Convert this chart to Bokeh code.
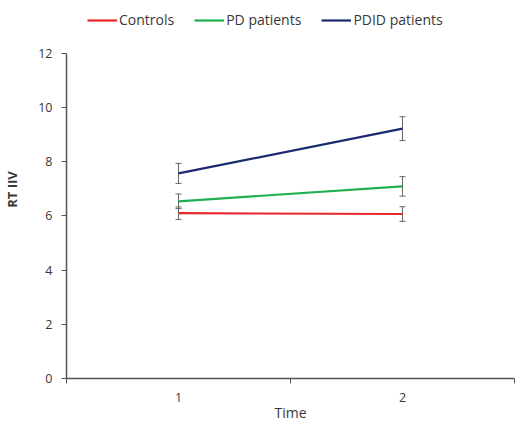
from bokeh.plotting import figure
from bokeh.models import (ColumnDataSource, Whisker, TeeHead, FixedTicker,
                          Legend, LegendItem, Range1d)
from bokeh.embed import file_html
from bokeh.resources import INLINE

# ---- data ----
times = [1, 2]
time_labels = ["1", "2"]
series_names = ["Controls", "PD patients", "PDID patients"]
controls = [6.10, 6.07]
controls_err = [0.23, 0.27]
pd_patients = [6.54, 7.09]
pd_err = [0.27, 0.36]
pdid_patients = [7.57, 9.22]
pdid_err = [0.37, 0.44]
colors = ["#e8262a", "#1fb04f", "#1b2a6e"]
y_ticks = [0, 2, 4, 6, 8, 10, 12]
y_max = 12

FONT = "Open Sans"
TXT = "#383838"
AXC = "#555555"

# extra headroom above the axis top (12) holds the legend
p = figure(width=516, height=424, output_backend="svg", toolbar_location=None,
           x_range=Range1d(0.5, 2.5), y_range=Range1d(0, 13.95),
           min_border_left=59, min_border_right=2, min_border_top=0,
           min_border_bottom=43)
p.outline_line_color = None
p.grid.grid_line_color = None
p.background_fill_color = "white"
p.border_fill_color = "white"

# x axis
xa = p.xaxis[0]
xa.ticker = FixedTicker(ticks=times, minor_ticks=[0.5, 1.5, 2.5])
xa.major_label_overrides = {t: l for t, l in zip(times, time_labels)}
xa.major_tick_out = 0
xa.major_tick_in = 0
xa.minor_tick_out = 5
xa.minor_tick_in = 0
xa.minor_tick_line_color = AXC
xa.axis_line_color = AXC
xa.axis_line_width = 1.5
xa.major_label_standoff = 9
xa.axis_label = "Time"
xa.axis_label_standoff = -2
xa.axis_label_text_font = FONT
xa.axis_label_text_font_style = "normal"
xa.axis_label_text_font_size = "14px"
xa.axis_label_text_color = TXT
xa.major_label_text_font = FONT
xa.major_label_text_font_size = "12.5px"
xa.major_label_text_color = TXT

# y axis
ya = p.yaxis[0]
ya.ticker = FixedTicker(ticks=y_ticks)
ya.bounds = (0, y_max)
ya.major_tick_out = 5
ya.major_tick_in = 0
ya.minor_tick_out = 0
ya.minor_tick_in = 0
ya.major_tick_line_color = AXC
ya.axis_line_color = AXC
ya.axis_line_width = 1.5
ya.major_label_standoff = 9
ya.axis_label = "RT IIV"
ya.axis_label_standoff = 14
ya.axis_label_text_font = FONT
ya.axis_label_text_font_style = "bold"
ya.axis_label_text_font_size = "13px"
ya.axis_label_text_color = TXT
ya.major_label_text_font = FONT
ya.major_label_text_font_size = "12.5px"
ya.major_label_text_color = TXT

items = []
for name, vals, errs, c in zip(series_names,
                               [controls, pd_patients, pdid_patients],
                               [controls_err, pd_err, pdid_err], colors):
    src = ColumnDataSource(dict(x=times, y=vals,
                                lo=[v - e for v, e in zip(vals, errs)],
                                hi=[v + e for v, e in zip(vals, errs)]))
    r = p.line("x", "y", source=src, line_color=c, line_width=2.2)
    w = Whisker(source=src, base="x", upper="hi", lower="lo",
                line_color="#666666", line_width=1,
                upper_head=TeeHead(size=6, line_color="#666666", line_width=1),
                lower_head=TeeHead(size=6, line_color="#666666", line_width=1))
    p.add_layout(w)
    items.append(LegendItem(label=name, renderers=[r]))

legend = Legend(items=items, orientation="horizontal",
                location=(21, 349), padding=0, margin=0, spacing=20,
                glyph_width=30, glyph_height=14, label_standoff=2,
                label_text_font=FONT, label_text_font_size="14px",
                label_text_color=TXT, border_line_color=None,
                background_fill_alpha=0)
p.add_layout(legend, "center")

open("out.html", "w").write(file_html(p, INLINE))
